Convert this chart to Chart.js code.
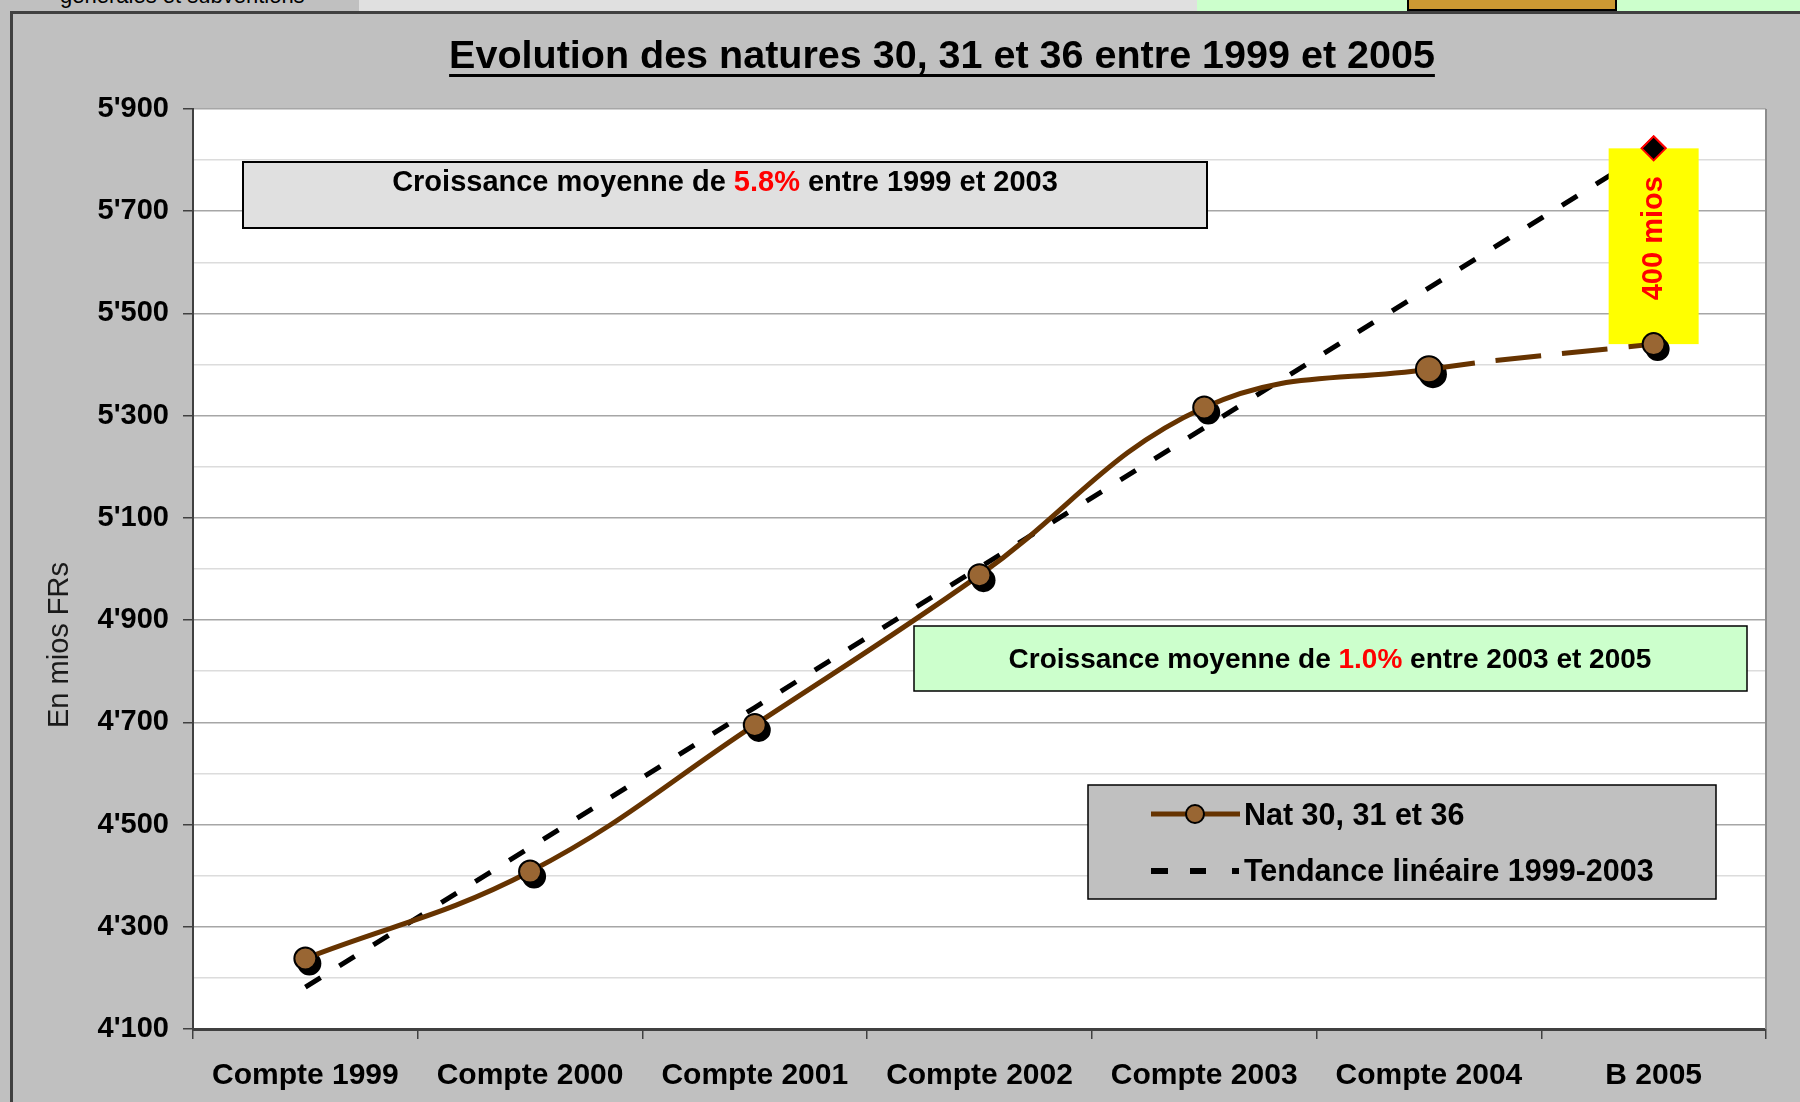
<!DOCTYPE html>
<html>
<head>
<meta charset="utf-8">
<script src="https://cdn.jsdelivr.net/npm/chart.js@4.4.1/dist/chart.umd.min.js"></script>
<style>
  html, body { margin: 0; padding: 0; background: #c0c0c0; }
  body { width: 1800px; height: 1102px; position: relative; overflow: hidden; font-family: "Liberation Sans", Arial, sans-serif; }
  .cell { position: absolute; top: 0; height: 11px; box-sizing: border-box; overflow: hidden; }
  #chart { position: absolute; left: 0; top: 0; z-index: 2; }
</style>
</head>
<body>
<!-- bande du tableur au-dessus du graphique -->
<div class="cell" style="left:0;width:359px;background:#c0c0c0;">
  <div style="position:absolute;left:60px;top:-17px;font-size:22px;white-space:nowrap;color:#000;">générales et subventions</div>
</div>
<div class="cell" style="left:359px;width:838px;background:#e0e0e0;"></div>
<div class="cell" style="left:1197px;width:210px;background:#ccffcc;"></div>
<div class="cell" style="left:1407px;width:210px;background:#cc9933;border:2px solid #000;border-top:none;"></div>
<div class="cell" style="left:1617px;width:183px;background:#ccffcc;"></div>
<div style="position:absolute;left:10px;top:11px;width:1790px;height:3px;background:#404040;"></div>
<div style="position:absolute;left:10px;top:11px;width:3px;height:1091px;background:#404040;"></div>

<canvas id="chart" width="1800" height="1102"></canvas>

<script>
// Données
const categories = ["Compte 1999", "Compte 2000", "Compte 2001", "Compte 2002", "Compte 2003", "Compte 2004", "B 2005"];
const natValues = [4238, 4408, 4695, 4988, 5316, 5391, 5440];
const trendValues = [4182, 4455, 4729, 5003, 5276, 5550, 5823];
const yMin = 4100;
const yMax = 5900;
const yMajorStep = 200;

const FONT = "'Liberation Sans', Arial, sans-serif";

// format 5'900
function fmt(v) {
  const s = String(Math.round(v));
  return s.length > 3 ? s.slice(0, s.length - 3) + "'" + s.slice(-3) : s;
}

function drawRichLine(ctx, parts, cx, cy, font) {
  ctx.font = font;
  const total = parts.reduce((w, p) => w + ctx.measureText(p[0]).width, 0);
  let x = cx - total / 2;
  ctx.textAlign = "left";
  ctx.textBaseline = "middle";
  parts.forEach(p => {
    ctx.fillStyle = p[1];
    ctx.fillText(p[0], x, cy);
    x += ctx.measureText(p[0]).width;
  });
}

const decoPlugin = {
  id: "deco",
  beforeDraw(chart) {
    const { ctx, chartArea: a } = chart;
    ctx.save();
    ctx.fillStyle = "#ffffff";
    ctx.fillRect(a.left, a.top, a.width, a.height);
    ctx.restore();
  },
  beforeDatasetDraw(chart, args) {
    // ombre des marqueurs
    if (args.index !== 0) return;
    const ctx = chart.ctx;
    ctx.save();
    ctx.fillStyle = "#000";
    args.meta.data.forEach(pt => {
      const r = pt.options.radius + 1;
      ctx.beginPath();
      ctx.arc(pt.x + 4, pt.y + 5, r, 0, Math.PI * 2);
      ctx.fill();
    });
    ctx.restore();
  },
  afterDatasetDraw(chart, args) {
    if (args.index !== 1) return;
    const { ctx } = chart;
    const xs = chart.scales.x, ys = chart.scales.y;
    const last = categories.length - 1;
    const cx = xs.getPixelForValue(last);
    const yTop = ys.getPixelForValue(trendValues[last]);
    const yBot = ys.getPixelForValue(natValues[last]);
    ctx.save();
    ctx.fillStyle = "#ffff00";
    ctx.fillRect(cx - 45, yTop, 90, yBot - yTop);
    ctx.restore();
    args.meta.data[last].draw(ctx);
    ctx.save();
    ctx.translate(cx, (yTop + yBot) / 2 - 8);
    ctx.rotate(-Math.PI / 2);
    ctx.fillStyle = "#ff0000";
    ctx.font = "bold 29px " + FONT;
    ctx.textAlign = "center";
    ctx.textBaseline = "middle";
    ctx.fillText("400 mios", 0, 0);
    ctx.restore();
  },
  afterDraw(chart) {
    const { ctx, chartArea: a } = chart;
    ctx.save();
    // cadre droit de la zone de traçage
    ctx.strokeStyle = "#8c8c8c";
    ctx.lineWidth = 2;
    ctx.beginPath();
    ctx.moveTo(a.right, a.top);
    ctx.lineTo(a.right, a.bottom);
    ctx.stroke();

    // titre souligné
    ctx.font = "bold 39.5px " + FONT;
    ctx.fillStyle = "#000";
    ctx.textAlign = "center";
    ctx.textBaseline = "middle";
    const title = "Evolution des natures 30, 31 et 36 entre 1999 et 2005";
    ctx.fillText(title, 942, 57);
    const tw = ctx.measureText(title).width;
    ctx.fillRect(942 - tw / 2, 74, tw, 3);

    // titre de l'axe Y
    ctx.save();
    ctx.translate(60, 645);
    ctx.rotate(-Math.PI / 2);
    ctx.font = "29px " + FONT;
    ctx.fillStyle = "#1a1a1a";
    ctx.fillText("En mios FRs", 0, 0);
    ctx.restore();

    // encadré 1999-2003
    ctx.fillStyle = "#e0e0e0";
    ctx.fillRect(243, 162, 964, 66);
    ctx.strokeStyle = "#000";
    ctx.lineWidth = 2;
    ctx.strokeRect(243, 162, 964, 66);
    drawRichLine(ctx, [["Croissance moyenne de ", "#000"], ["5.8%", "#ff0000"], [" entre 1999 et 2003", "#000"]],
      725, 183, "bold 29px " + FONT);

    // encadré 2003-2005
    ctx.fillStyle = "#ccffcc";
    ctx.fillRect(914, 626, 833, 65);
    ctx.strokeStyle = "#000";
    ctx.lineWidth = 1.5;
    ctx.strokeRect(914, 626, 833, 65);
    drawRichLine(ctx, [["Croissance moyenne de ", "#000"], ["1.0%", "#ff0000"], [" entre 2003 et 2005", "#000"]],
      1330, 660, "bold 28px " + FONT);

    // légende
    ctx.fillStyle = "#c0c0c0";
    ctx.fillRect(1088, 785, 628, 114);
    ctx.strokeStyle = "#000";
    ctx.lineWidth = 1.5;
    ctx.strokeRect(1088, 785, 628, 114);

    ctx.strokeStyle = "#663300";
    ctx.lineWidth = 5;
    ctx.beginPath();
    ctx.moveTo(1151, 814);
    ctx.lineTo(1240, 814);
    ctx.stroke();
    ctx.fillStyle = "#996633";
    ctx.strokeStyle = "#000";
    ctx.lineWidth = 2;
    ctx.beginPath();
    ctx.arc(1195, 814, 9, 0, Math.PI * 2);
    ctx.fill();
    ctx.stroke();

    ctx.fillStyle = "#000";
    ctx.fillRect(1151, 868, 17, 6);
    ctx.fillRect(1190, 868, 16, 6);
    ctx.fillRect(1232, 868, 7, 6);

    ctx.font = "bold 30.5px " + FONT;
    ctx.textAlign = "left";
    ctx.textBaseline = "middle";
    ctx.fillText("Nat 30, 31 et 36", 1244, 817);
    ctx.fillText("Tendance linéaire 1999-2003", 1244, 873);
    ctx.restore();
  }
};

const chart = new Chart(document.getElementById("chart").getContext("2d"), {
  type: "line",
  data: {
    labels: categories,
    datasets: [
      {
        label: "Nat 30, 31 et 36",
        data: natValues,
        borderColor: "#663300",
        borderWidth: 5,
        tension: 0.4,
        borderCapStyle: "butt",
        segment: {
          borderDash: ctx => ctx.p0DataIndex === 5 ? [46, 21] : undefined
        },
        pointBackgroundColor: "#996633",
        pointBorderColor: "#000",
        pointBorderWidth: 2,
        pointRadius: ctx => ctx.dataIndex === 5 ? 13 : 11,
        pointHoverRadius: ctx => ctx.dataIndex === 5 ? 13 : 11,
        fill: false
      },
      {
        label: "Tendance linéaire 1999-2003",
        data: trendValues,
        borderColor: "#000",
        borderWidth: 5,
        borderDash: [18, 22],
        borderCapStyle: "butt",
        tension: 0,
        pointStyle: "rectRot",
        pointBackgroundColor: "#000",
        pointBorderColor: "#ff0000",
        pointBorderWidth: 2,
        pointRadius: ctx => ctx.dataIndex === categories.length - 1 ? 12 : 0,
        pointHoverRadius: ctx => ctx.dataIndex === categories.length - 1 ? 12 : 0,
        fill: false
      }
    ]
  },
  options: {
    responsive: false,
    animation: false,
    events: [],
    layout: { padding: { left: 0, top: 109, right: 34, bottom: 0 } },
    plugins: {
      legend: { display: false },
      title: { display: false },
      tooltip: { enabled: false }
    },
    scales: {
      x: {
        offset: true,
        afterFit: s => { s.height = 73; },
        border: { color: "#404040", width: 3 },
        grid: {
          offset: true,
          drawOnChartArea: false,
          drawTicks: true,
          tickLength: 10,
          color: "#404040",
          lineWidth: 1.5
        },
        ticks: {
          autoSkip: false,
          maxRotation: 0,
          padding: 19,
          color: "#000",
          font: { family: FONT, size: 30, weight: "bold" }
        }
      },
      y: {
        min: yMin,
        max: yMax,
        afterFit: s => { s.width = 193; },
        border: { color: "#404040", width: 2 },
        grid: {
          drawTicks: true,
          tickLength: 10,
          color: ctx => ((ctx.tick.value - yMin) % yMajorStep === 0) ? "#a6a6a6" : "#dcdcdc",
          lineWidth: 1.5,
          tickColor: ctx => ((ctx.tick.value - yMin) % yMajorStep === 0) ? "#404040" : "rgba(0,0,0,0)"
        },
        ticks: {
          stepSize: 100,
          padding: 14,
          color: "#000",
          font: { family: FONT, size: 29, weight: "bold" },
          callback: v => ((v - yMin) % yMajorStep === 0) ? fmt(v) : ""
        }
      }
    }
  },
  plugins: [decoPlugin]
});
</script>
</body>
</html>
